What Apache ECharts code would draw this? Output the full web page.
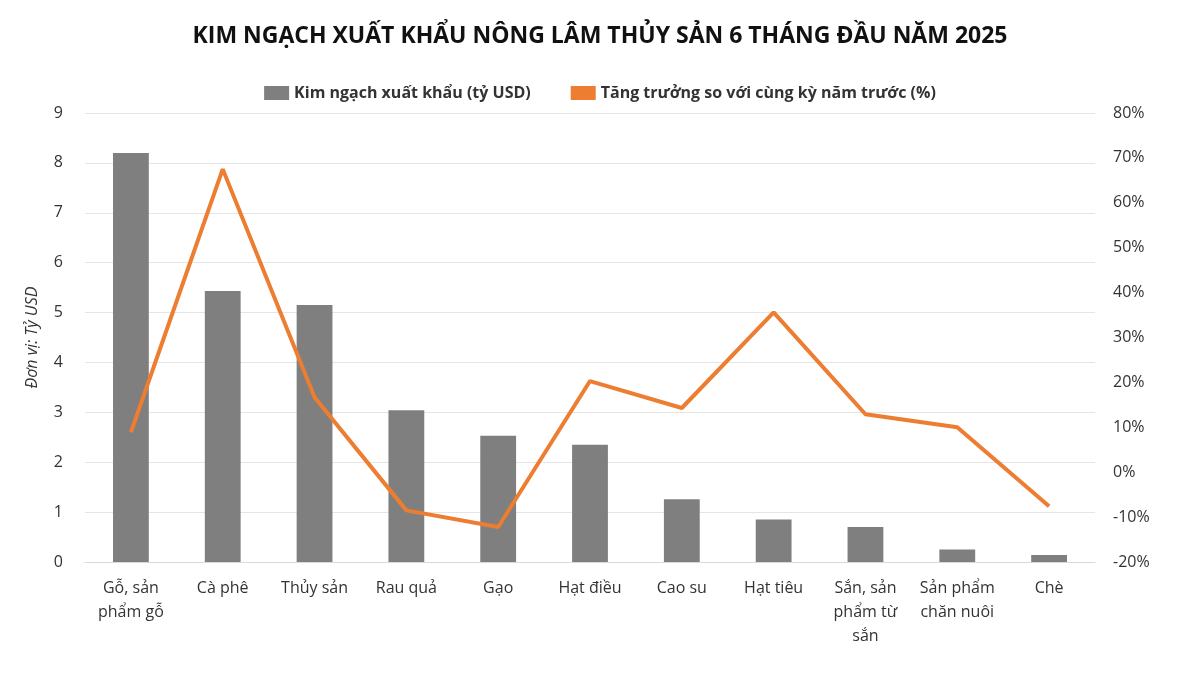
<!DOCTYPE html>
<html><head><meta charset="utf-8">
<script src="https://cdn.jsdelivr.net/npm/echarts@6/dist/echarts.min.js"></script>
<style>html,body{margin:0;background:#fff}#c{width:1200px;height:675px}</style>
</head><body><div id="c"></div>
<script>
const categories=["Gỗ, sản\nphẩm gỗ","Cà phê","Thủy sản","Rau quả","Gạo","Hạt điều","Cao su","Hạt tiêu","Sắn, sản\nphẩm từ\nsắn","Sản phẩm\nchăn nuôi","Chè"];
const exportValue=[8.2,5.43,5.15,3.04,2.53,2.35,1.26,0.85,0.70,0.25,0.14];
const growth=[8.9,67.5,16.7,-8.5,-12.2,20.3,14.3,35.6,12.9,10.0,-7.6];
const F="Open Sans";
const chart=echarts.init(document.getElementById('c'));
chart.setOption({
 textStyle:{fontFamily:F},
 title:{text:"KIM NGẠCH XUẤT KHẨU NÔNG LÂM THỦY SẢN 6 THÁNG ĐẦU NĂM 2025",left:'center',top:20,textStyle:{fontFamily:F,fontSize:23,fontWeight:'bold',color:'#111'}},
 legend:{top:80,left:'center',itemGap:40,textStyle:{fontFamily:F,fontSize:16,fontWeight:'bold',color:'#333'},
  data:[{name:"Kim ngạch xuất khẩu (tỷ USD)",icon:'rect',itemWidth:12,itemHeight:12},{name:"Tăng trưởng so với cùng kỳ năm trước (%)",icon:'rect',itemWidth:22,itemHeight:4}]},
 grid:{left:85,right:105,top:113,bottom:113},
 xAxis:{type:'category',data:categories,axisTick:{show:false},axisLine:{lineStyle:{color:'#d9d9d9'}},
  axisLabel:{interval:0,fontSize:16,color:'#333',lineHeight:24,margin:14}},
 yAxis:[
  {type:'value',min:0,max:9,interval:1,name:'Đơn vị: Tỷ USD',nameLocation:'middle',nameGap:45,nameTextStyle:{fontStyle:'italic',fontSize:16,color:'#333'},
   axisLabel:{fontSize:16,color:'#333',margin:22},splitLine:{lineStyle:{color:'#e5e5e5'}}},
  {type:'value',min:-20,max:80,interval:10,axisLabel:{fontSize:16,color:'#333',formatter:'{value}%',margin:18},splitLine:{show:false}}
 ],
 series:[
  {name:"Kim ngạch xuất khẩu (tỷ USD)",type:'bar',data:exportValue,barWidth:'39%',itemStyle:{color:'#7f7f7f'}},
  {name:"Tăng trưởng so với cùng kỳ năm trước (%)",type:'line',yAxisIndex:1,data:growth,symbol:'none',lineStyle:{color:'#ED7D31',width:4},itemStyle:{color:'#ED7D31'}}
 ]
});
</script></body></html>
